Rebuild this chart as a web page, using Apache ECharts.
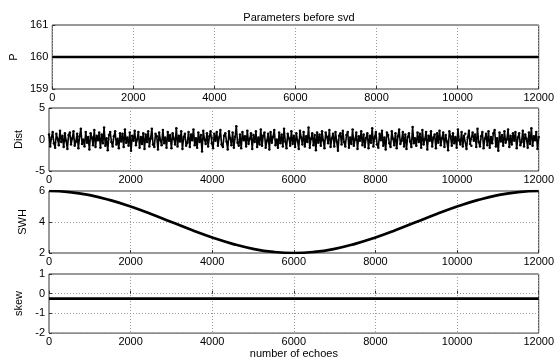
<!DOCTYPE html>
<html><head><meta charset="utf-8">
<script src="https://cdn.jsdelivr.net/npm/echarts@6/dist/echarts.min.js"></script>
<style>html,body{margin:0;padding:0;background:#fff}#c{width:557px;height:360px}</style>
</head><body><div id="c"></div>
<script>
// ---- data ----
const xTicks = [0, 2000, 4000, 6000, 8000, 10000, 12000];
const pX = [0, 12000];
const pValues = [160, 160];
const skewX = [0, 12000];
const skewValues = [-0.25, -0.25];
const swhStep = 500;
const swhValues = [6.00,5.93,5.73,5.41,5.00,4.52,4.00,3.48,3.00,2.59,2.27,2.07,2.00,
                   2.07,2.27,2.59,3.00,3.48,4.00,4.52,5.00,5.41,5.73,5.93,6.00];
const distStep = 30;
const distValues = [
0.8,-1.1,0.3,1.2,-0.6,-1.3,0.9,0.1,-0.9,1.4,-0.4,0.6,-1.2,1.0,-0.2,-1.5,0.7,1.1,-0.8,0.2,
1.3,-1.0,-0.3,0.9,-1.4,0.5,1.7,-0.7,0.0,-1.1,1.2,-0.5,0.4,-1.6,1.0,0.3,-0.9,1.5,-1.2,0.6,
-0.1,1.1,-1.3,0.8,-0.6,1.9,-1.0,0.2,-1.7,0.7,1.2,-0.4,-1.1,0.5,1.3,-0.8,0.1,-1.4,1.0,-0.3,
0.9,-1.2,1.6,-0.5,0.3,-1.0,1.1,-1.8,0.6,-0.2,1.4,-0.9,0.0,1.2,-1.3,0.4,-0.7,1.0,-1.5,0.8,
-0.4,1.3,-1.1,0.2,1.7,-0.8,-1.2,0.9,0.5,-1.6,1.1,-0.1,-0.9,1.5,-0.6,0.3,-1.3,1.2,-0.2,0.7,
-1.4,1.0,0.1,-0.8,1.8,-1.1,0.6,-0.3,1.3,-1.5,0.4,0.9,-1.0,-0.5,1.2,-1.2,0.8,-0.1,1.6,-0.9,
0.2,-1.3,1.1,-0.4,0.7,-1.9,1.4,0.0,-0.7,1.0,-1.1,0.5,1.3,-0.6,-1.4,0.9,-0.2,1.2,-1.0,0.3,
1.5,-0.8,-1.2,0.6,1.0,-0.3,-1.6,1.3,0.2,-0.9,1.1,-1.3,0.4,2.1,-0.5,-1.0,0.8,-1.4,1.2,-0.1,
0.5,-1.1,1.4,-0.7,0.1,1.0,-1.5,0.7,-0.4,1.3,-1.2,0.3,-0.8,1.6,-1.0,0.6,1.1,-1.3,-0.2,0.9,
-1.6,1.2,-0.5,0.4,1.5,-0.9,0.0,-1.3,1.1,-0.6,0.8,-1.1,1.7,-0.3,-1.4,0.9,0.2,-1.0,1.3,-0.7,
0.6,-1.2,1.0,-0.2,-1.5,1.4,0.3,-0.8,1.2,-1.1,0.5,-0.4,1.9,-1.3,0.1,1.0,-0.9,0.7,-1.7,1.1,
-0.5,0.8,-1.0,1.3,-0.1,-1.4,1.1,0.4,-0.6,1.5,-1.2,0.2,0.9,-1.1,1.2,-0.3,-1.8,0.6,1.0,-0.8,
1.4,-0.4,-1.1,0.7,1.2,-1.3,0.3,-0.7,1.6,-1.0,0.0,1.1,-1.5,0.5,-0.2,1.3,-0.9,0.8,-1.2,0.2,
1.0,-1.4,0.6,-0.5,1.8,-1.1,0.4,1.2,-0.8,-1.3,0.9,-0.1,1.4,-1.0,0.3,-1.6,1.1,0.7,-0.6,-1.2,
1.3,0.1,-0.9,1.0,-1.4,0.5,1.6,-0.7,-0.2,1.2,-1.1,0.8,-1.5,0.4,1.0,-0.3,-1.2,2.0,-0.6,0.2,
-1.0,1.1,-0.4,0.9,-1.3,1.5,-0.8,0.0,1.2,-1.6,0.6,-0.2,1.3,-1.1,0.3,0.8,-1.4,1.0,-0.5,1.4,
-0.9,0.2,1.1,-1.2,0.7,-0.3,-1.7,1.3,0.5,-1.0,1.0,-0.6,0.4,-1.3,1.6,-0.1,-0.8,1.2,-1.1,0.6,
0.9,-1.5,0.3,1.4,-0.7,-1.0,1.1,-0.2,0.8,-1.2,1.7,-0.4,-1.1,0.5,1.2,-1.4,0.1,0.9,-0.9,1.3,
-1.3,0.4,-0.6,1.0,1.5,-1.1,0.2,-1.8,1.1,-0.3,0.7,-1.0,1.3,-0.5,0.0,1.6,-1.2,0.6,-0.8,1.0,
-0.2,1.2,-1.4,0.3,1.0,-0.9,-0.4,1.4,-1.1,0.8,0.1,-1.3,1.1,-0.7,1.8,-1.0,0.5,-0.1,1.2,-1.5,
0.4];
const panels = [
  {name:'P', min:159, max:161, interval:1, gap:27},
  {name:'Dist', min:-5, max:5, interval:5, gap:14},
  {name:'SWH', min:2, max:6, interval:2, gap:11},
  {name:'skew', min:-2, max:1, interval:1, gap:14}
];
const xLabel = 'number of echoes';
const titleText = 'Parameters before svd';

// ---- build ----
const font = 'Liberation Sans, Arial, sans-serif';
const layout = [{top:25,h:64},{top:108,h:63},{top:191,h:62},{top:274,h:64}];
const grids = layout.map(l => ({left:49, width:490, top:l.top, height:l.h, show:true,
  borderColor:'#333', borderWidth:1, backgroundColor:'#fff', containLabel:false}));
const plain = v => String(v);
const xAxes = layout.map((l,i) => ({gridIndex:i, type:'value', min:0, max:12000, interval:2000,
  axisLine:{show:false}, axisTick:{show:true, inside:true, length:3, lineStyle:{color:'#333'}},
  axisLabel:{color:'#000', fontSize:11, fontFamily:font, margin:3, formatter:plain},
  splitLine:{show:true, lineStyle:{color:'#999', type:[1,2], width:1}},
  name: i===3 ? xLabel : '', nameLocation:'middle', nameGap:13,
  nameTextStyle:{color:'#000', fontSize:11, fontFamily:font}}));
const yAxes = panels.map((p,i) => ({gridIndex:i, type:'value', min:p.min, max:p.max, interval:p.interval,
  axisLine:{show:false}, axisTick:{show:true, inside:true, length:3, lineStyle:{color:'#333'}},
  axisLabel:{color:'#000', fontSize:11, fontFamily:font, margin:4, formatter:plain},
  splitLine:{show:true, lineStyle:{color:'#999', type:[1,2], width:1}},
  name:p.name, nameLocation:'middle', nameGap:p.gap, nameRotate:90,
  nameTextStyle:{color:'#000', fontSize:11, fontFamily:font}}));
const pData = pX.map((x,i)=>[x,pValues[i]]);
const skewData = skewX.map((x,i)=>[x,skewValues[i]]);
const swhData = swhValues.map((v,i)=>[i*swhStep, v]);
const distData = distValues.map((v,i)=>[i*distStep, v]);
const series = [
  {type:'line', xAxisIndex:0, yAxisIndex:0, data:pData, showSymbol:false, lineStyle:{color:'#000', width:2.7}, silent:true},
  {type:'line', xAxisIndex:1, yAxisIndex:1, data:distData, symbol:'circle', symbolSize:2.5, showSymbol:true,
    itemStyle:{color:'#000'}, lineStyle:{color:'#000', width:1.6}, silent:true},
  {type:'line', xAxisIndex:2, yAxisIndex:2, data:swhData, smooth:true, showSymbol:false, lineStyle:{color:'#000', width:2.7}, silent:true},
  {type:'line', xAxisIndex:3, yAxisIndex:3, data:skewData, showSymbol:false, lineStyle:{color:'#000', width:2.7}, silent:true}
];
const chart = echarts.init(document.getElementById('c'), null, {renderer:'canvas'});
chart.setOption({
  animation:false, backgroundColor:'#fff',
  title:{text:titleText, left:294, top:7, textAlign:'center',
    textStyle:{color:'#000', fontSize:11, fontWeight:'normal', fontFamily:font}},
  grid:grids, xAxis:xAxes, yAxis:yAxes, series:series
});
</script></body></html>
